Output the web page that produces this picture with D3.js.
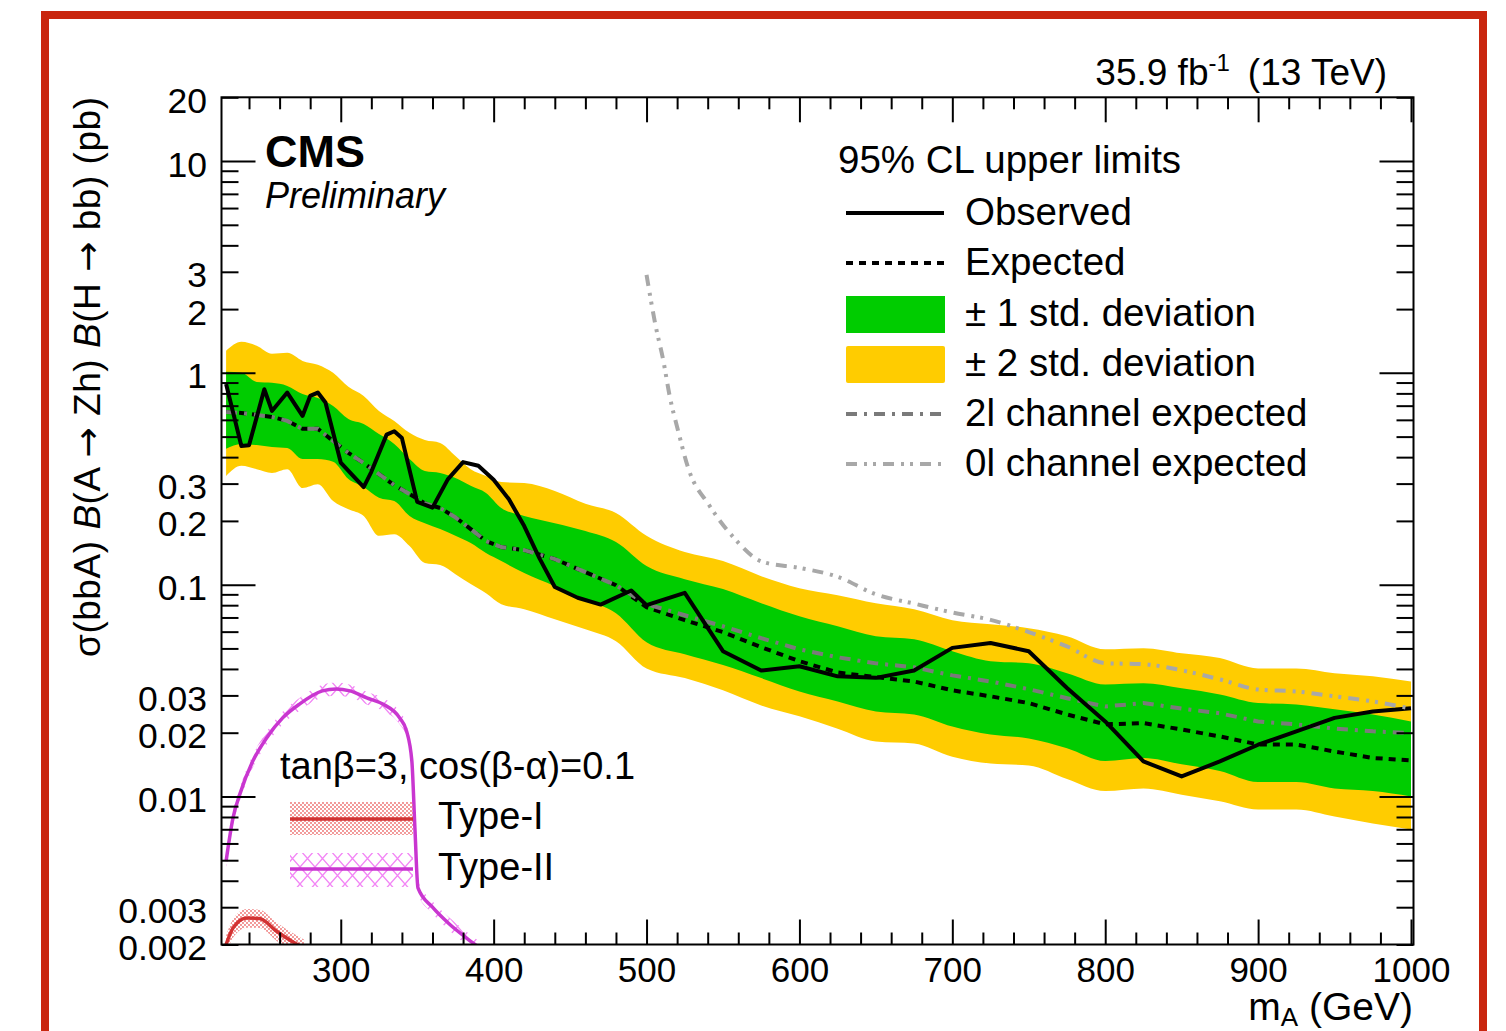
<!DOCTYPE html>
<html><head><meta charset="utf-8">
<script src="https://cdn.jsdelivr.net/npm/d3@7"></script>
<style>
body{margin:0;background:#fff}
svg{display:block}
text{font-family:"Liberation Sans",Arial,Helvetica,sans-serif}
</style>
</head><body>
<svg id="c" width="1506" height="1031"></svg>
<script>
// ---------------- data ----------------
const massGrid = [225,235,245,255,265,275,285,295,305,315,325,335,345,355,365,375,385,395,405,420,440,460,480,500,525,550,575,600,625,650,675,700,725,750,775,800,825,850,875,900,925,950,975,1000];
const expected = [0.654,0.647,0.633,0.619,0.593,0.544,0.544,0.477,0.419,0.375,0.333,0.295,0.268,0.242,0.230,0.208,0.183,0.1606,0.1505,0.1456,0.1320,0.1146,0.0994,0.0783,0.0680,0.0597,0.0507,0.0435,0.0385,0.0366,0.0349,0.0317,0.0297,0.0276,0.0244,0.0219,0.0222,0.0207,0.0192,0.0176,0.0176,0.0163,0.0152,0.0148];
const sigma1Up = [1.011,1.000,0.906,0.897,0.868,0.795,0.761,0.698,0.606,0.574,0.514,0.462,0.392,0.344,0.337,0.319,0.293,0.271,0.230,0.211,0.195,0.179,0.1589,0.1224,0.1062,0.0953,0.0817,0.0709,0.0636,0.0571,0.0552,0.0485,0.0435,0.0425,0.0382,0.0338,0.0342,0.0324,0.0303,0.0276,0.0272,0.0258,0.0244,0.0226];
const sigma1Down = [0.438,0.462,0.456,0.447,0.442,0.392,0.392,0.380,0.315,0.289,0.257,0.248,0.211,0.195,0.183,0.170,0.1571,0.1409,0.1292,0.1134,0.0984,0.0854,0.0733,0.0535,0.0469,0.0417,0.0362,0.0313,0.0281,0.0252,0.0244,0.0214,0.0196,0.0188,0.0169,0.0147,0.0152,0.0142,0.0132,0.0117,0.0117,0.0109,0.0106,0.0100];
const sigma2Up = [1.271,1.402,1.342,1.230,1.243,1.139,1.091,1.000,0.859,0.778,0.661,0.593,0.521,0.482,0.467,0.405,0.351,0.326,0.305,0.302,0.277,0.241,0.218,0.170,0.1425,0.1292,0.1097,0.0963,0.0892,0.0817,0.0766,0.0680,0.0651,0.0623,0.0571,0.0495,0.0501,0.0474,0.0450,0.0402,0.0402,0.0382,0.0369,0.0349];
const sigma2Down = [0.326,0.364,0.351,0.337,0.351,0.286,0.298,0.248,0.227,0.211,0.170,0.173,0.1521,0.1264,0.1237,0.1121,0.1006,0.0912,0.0809,0.0766,0.0687,0.0616,0.0541,0.0402,0.0362,0.0317,0.0269,0.0239,0.0209,0.0182,0.0178,0.0154,0.0143,0.0140,0.0121,0.0106,0.0109,0.0102,0.0095,0.00868,0.00868,0.00804,0.00745,0.00698];
const expected2l = [0.654,0.647,0.633,0.619,0.593,0.544,0.544,0.477,0.419,0.375,0.333,0.295,0.268,0.242,0.230,0.208,0.183,0.1606,0.1505,0.1456,0.1320,0.1146,0.0994,0.0809,0.0717,0.0636,0.0559,0.0495,0.0454,0.0425,0.0407,0.0373,0.0349,0.0321,0.0291,0.0266,0.0276,0.0260,0.0247,0.0226,0.0219,0.0209,0.0203,0.0199];

const masses0l = [500,506,511,515,521,527,541,556,576,600,625,650,675,700,725,750,775,800,825,850,875,900,925,950,975,1000];
const expected0l = [2.9,1.66,1.14,0.786,0.521,0.360,0.237,0.170,0.128,0.120,0.109,0.090,0.0814,0.0739,0.0682,0.0597,0.0511,0.0426,0.0421,0.0394,0.0357,0.0320,0.0313,0.0297,0.0281,0.0260];

const massesObs = [225,235,240,250,255,265,275,280,285,290,300,315,320,330,335,340,350,360,370,380,390,400,410,420,430,440,455,470,490,500,525,550,575,600,625,650,675,700,725,750,775,800,825,850,875,900,925,950,975,1000];
const observed = [0.885,0.452,0.455,0.837,0.661,0.807,0.626,0.778,0.807,0.724,0.377,0.289,0.341,0.511,0.530,0.492,0.246,0.231,0.314,0.379,0.364,0.313,0.253,0.189,0.133,0.0975,0.0867,0.0805,0.0938,0.0800,0.0915,0.0485,0.0393,0.0412,0.0369,0.0363,0.0393,0.0503,0.0530,0.0485,0.0325,0.0226,0.01464,0.01243,0.01464,0.01755,0.0203,0.0235,0.0252,0.0261];

const typeIIMass = [225,229.5,234,242.5,251.5,262,273,288,297,306,317,327.5,338.5,343,346.5,348.5,350.5,360,371,382.5,389,396];
const typeII = [0.00495,0.00791,0.01026,0.0147,0.0189,0.0235,0.0273,0.0315,0.0322,0.0315,0.0292,0.0273,0.0235,0.0204,0.0147,0.0071,0.0037,0.0030,0.0025,0.00214,0.00197,0.0018];
const typeIIUp = [0.0053,0.00846,0.01098,0.0157,0.0202,0.0251,0.0292,0.0337,0.0345,0.0337,0.0312,0.0292,0.0251,0.0218,0.0157,0.0076,0.0040,0.0032,0.00268,0.00229,0.00211,0.00193];
const typeIIDown = [0.0046,0.00736,0.00954,0.0137,0.0176,0.0219,0.0254,0.0293,0.0299,0.0293,0.0272,0.0254,0.0219,0.0190,0.0137,0.0066,0.00344,0.0028,0.00233,0.00199,0.00183,0.00167];

const typeIMass = [225,229.5,238.5,247,258,271,276];
const typeI = [0.0020,0.00239,0.00267,0.00265,0.00231,0.00201,0.00192];
const typeIUp = [0.0022,0.00263,0.00294,0.00292,0.00254,0.00221,0.00211];
const typeIDown = [0.0018,0.00215,0.0024,0.00239,0.00208,0.00181,0.00173];

const xTickLabels = [300,400,500,600,700,800,900,1000];
const yTickLabels = [20,10,3,2,1,0.3,0.2,0.1,0.03,0.02,0.01,0.003,0.002];
const yMajorTicks = [0.01,0.1,1,10];

const legendLabels = ["Observed","Expected","\u00b1 1 std. deviation","\u00b1 2 std. deviation","2l channel expected","0l channel expected"];

// ---------------- drawing ----------------
const W = 1506, H = 1031;
const svg = d3.select('#c');
svg.append('rect').attr('width', W).attr('height', H).attr('fill', '#fff');
svg.append('rect').attr('x', 45).attr('y', 15).attr('width', 1438).attr('height', 1100)
  .attr('fill', 'none').attr('stroke', '#c9260e').attr('stroke-width', 8);

const L = 221.5, R = 1413.5, T = 97.3, B = 944.5;
const x = d3.scaleLinear().domain([222, 1000]).range([221.5, 1411]);
const y = d3.scaleLog().domain([0.002, 20]).range([B, T]);

const defs = svg.append('defs');
defs.append('clipPath').attr('id', 'clip').append('rect')
  .attr('x', L).attr('y', T).attr('width', R - L).attr('height', B - T);
const p1 = defs.append('pattern').attr('id', 'hatchI').attr('patternUnits', 'userSpaceOnUse').attr('width', 4).attr('height', 4);
p1.append('circle').attr('cx', 1).attr('cy', 1).attr('r', 0.9).attr('fill', '#ec6a6a');
p1.append('circle').attr('cx', 3).attr('cy', 3).attr('r', 0.9).attr('fill', '#ec6a6a');
const p2 = defs.append('pattern').attr('id', 'hatchII').attr('patternUnits', 'userSpaceOnUse').attr('width', 15).attr('height', 17);
p2.append('path').attr('d', 'M0,0 L15,17 M15,0 L0,17').attr('stroke', '#f286f5').attr('stroke-width', 1.4).attr('fill', 'none');

const plot = svg.append('g').attr('clip-path', 'url(#clip)');

function bandPath(ms, lo, hi, curve) {
  return d3.area().x((d, i) => x(ms[i])).y0((d, i) => y(lo[i])).y1((d, i) => y(hi[i])).curve(curve)(ms);
}
function linePath(ms, vs, curve) {
  return d3.line().x((d, i) => x(ms[i])).y((d, i) => y(vs[i])).curve(curve)(ms);
}

plot.append('path').attr('d', bandPath(massGrid, sigma2Down, sigma2Up, d3.curveMonotoneX)).attr('fill', '#ffcc00');
plot.append('path').attr('d', bandPath(massGrid, sigma1Down, sigma1Up, d3.curveMonotoneX)).attr('fill', '#00cc00');

plot.append('path').attr('d', linePath(massGrid, expected, d3.curveLinear))
  .attr('fill', 'none').attr('stroke', '#000').attr('stroke-width', 4).attr('stroke-dasharray', '7,6');
plot.append('path').attr('d', linePath(massGrid, expected2l, d3.curveLinear))
  .attr('fill', 'none').attr('stroke', '#7a7a7a').attr('stroke-width', 4).attr('stroke-dasharray', '11,7,3,7');
plot.append('path').attr('d', linePath(massesObs, observed, d3.curveLinear))
  .attr('fill', 'none').attr('stroke', '#000').attr('stroke-width', 4).attr('stroke-linejoin', 'round');
plot.append('path').attr('d', linePath(masses0l, expected0l, d3.curveMonotoneX))
  .attr('fill', 'none').attr('stroke', '#a8a8a8').attr('stroke-width', 4).attr('stroke-dasharray', '11,7,3,6,3,7');

plot.append('path').attr('d', bandPath(typeIIMass, typeIIDown, typeIIUp, d3.curveMonotoneX)).attr('fill', 'url(#hatchII)');
plot.append('path').attr('d', linePath(typeIIMass, typeII, d3.curveMonotoneX))
  .attr('fill', 'none').attr('stroke', '#c936d0').attr('stroke-width', 3.5);
plot.append('path').attr('d', bandPath(typeIMass, typeIDown, typeIUp, d3.curveMonotoneX)).attr('fill', 'url(#hatchI)');
plot.append('path').attr('d', linePath(typeIMass, typeI, d3.curveMonotoneX))
  .attr('fill', 'none').attr('stroke', '#d23232').attr('stroke-width', 3.5);

// ---------------- axes ----------------
const FONT = '"Liberation Sans",Arial,Helvetica,sans-serif';
const xMinor = d3.range(240, 1000, 20).filter(v => v % 100 !== 0);
const yMinor = [];
[0.001, 0.01, 0.1, 1, 10].forEach(dec => { for (let k = 2; k <= 9; k++) { const v = k * dec; if (v >= 0.002 && v <= 20) yMinor.push(+v.toPrecision(3)); } });

function styleAxis(g) {
  g.select('.domain').remove();
  g.selectAll('line').attr('stroke', '#000').attr('stroke-width', 2);
}
// bottom
svg.append('g').attr('transform', `translate(0,${B})`).call(d3.axisBottom(x).tickValues(xMinor).tickSize(-12).tickFormat('')).call(styleAxis);
svg.append('g').attr('transform', `translate(0,${B})`).call(d3.axisBottom(x).tickValues(xTickLabels).tickSize(-25).tickFormat(d => String(d))).call(styleAxis)
  .call(g => g.selectAll('text').attr('y', 37).attr('dy', 0).attr('fill', '#000').attr('font-size', 35).attr('font-family', FONT));
// top
svg.append('g').attr('transform', `translate(0,${T})`).call(d3.axisTop(x).tickValues(xMinor).tickSize(-12).tickFormat('')).call(styleAxis);
svg.append('g').attr('transform', `translate(0,${T})`).call(d3.axisTop(x).tickValues(xTickLabels).tickSize(-25).tickFormat('')).call(styleAxis);
// left
svg.append('g').attr('transform', `translate(${L},0)`).call(d3.axisLeft(y).tickValues(yMinor).tickSize(-17).tickFormat('')).call(styleAxis);
svg.append('g').attr('transform', `translate(${L},0)`).call(d3.axisLeft(y).tickValues(yMajorTicks).tickSize(-34).tickFormat('')).call(styleAxis);
svg.append('g').attr('transform', `translate(${L},0)`).call(d3.axisLeft(y).tickValues(yTickLabels).tickSize(0).tickPadding(14.5).tickFormat(d => String(d))).call(styleAxis)
  .call(g => g.selectAll('text').attr('dy', 15).attr('fill', '#000').attr('font-size', 35.5).attr('font-family', FONT));
// right
svg.append('g').attr('transform', `translate(${R},0)`).call(d3.axisRight(y).tickValues(yMinor).tickSize(-17).tickFormat('')).call(styleAxis);
svg.append('g').attr('transform', `translate(${R},0)`).call(d3.axisRight(y).tickValues(yMajorTicks).tickSize(-34).tickFormat('')).call(styleAxis);

// frame
svg.append('rect').attr('x', L).attr('y', T).attr('width', R - L).attr('height', B - T)
  .attr('fill', 'none').attr('stroke', '#000').attr('stroke-width', 2);

// ---------------- texts ----------------
const ARROWFONT = '"DejaVu Sans",sans-serif';
const yt = svg.append('text').attr('transform', 'translate(100,97) rotate(-90)')
  .attr('text-anchor', 'end').attr('font-size', 37).attr('fill', '#000')
  .attr('textLength', 560).attr('lengthAdjust', 'spacing');
yt.append('tspan').text('\u03c3(bbA) ');
yt.append('tspan').attr('font-style', 'italic').text('B');
yt.append('tspan').text('(A ');
yt.append('tspan').attr('font-family', ARROWFONT).attr('font-size', 36).text('\u2192');
yt.append('tspan').text(' Zh) ');
yt.append('tspan').attr('font-style', 'italic').text('B');
yt.append('tspan').text('(H ');
yt.append('tspan').attr('font-family', ARROWFONT).attr('font-size', 36).text('\u2192');
yt.append('tspan').text(' bb) (pb)');

const xt = svg.append('text').attr('x', 1413).attr('y', 1020).attr('text-anchor', 'end').attr('font-size', 39).attr('fill', '#000');
xt.append('tspan').text('m');
xt.append('tspan').attr('font-size', 26).attr('dy', 6).text('A');
xt.append('tspan').attr('dy', -6).text(' (GeV)');

const lumi = svg.append('text').attr('x', 1387).attr('y', 85).attr('text-anchor', 'end').attr('font-size', 37).attr('fill', '#000');
lumi.append('tspan').text('35.9 fb');
lumi.append('tspan').attr('font-size', 24).attr('dy', -14).text('-1');
lumi.append('tspan').attr('dy', 14).attr('dx', 18).text('(13 TeV)');

svg.append('text').attr('x', 265).attr('y', 167).attr('font-size', 45).attr('font-weight', 'bold').attr('fill', '#000').text('CMS');
svg.append('text').attr('x', 265).attr('y', 208).attr('font-size', 36).attr('font-style', 'italic').attr('fill', '#000').text('Preliminary');

// legend
svg.append('text').attr('x', 838).attr('y', 173).attr('font-size', 38.5).attr('fill', '#000').text('95% CL upper limits');
const lg = svg.append('g');
const rowY = [213, 263, 314, 364, 414, 464];
legendLabels.forEach((t, i) => {
  lg.append('text').attr('x', 965).attr('y', rowY[i] + 12).attr('font-size', 38.5).attr('fill', '#000').text(t);
});
lg.append('line').attr('x1', 846).attr('x2', 944).attr('y1', rowY[0]).attr('y2', rowY[0]).attr('stroke', '#000').attr('stroke-width', 4);
lg.append('line').attr('x1', 846).attr('x2', 944).attr('y1', rowY[1]).attr('y2', rowY[1]).attr('stroke', '#000').attr('stroke-width', 4).attr('stroke-dasharray', '7,6');
lg.append('rect').attr('x', 846).attr('y', 296).attr('width', 99).attr('height', 37).attr('fill', '#00cc00');
lg.append('rect').attr('x', 846).attr('y', 346).attr('width', 99).attr('height', 37).attr('rx', 2).attr('fill', '#ffcc00');
lg.append('line').attr('x1', 846).attr('x2', 944).attr('y1', rowY[4]).attr('y2', rowY[4]).attr('stroke', '#7a7a7a').attr('stroke-width', 4).attr('stroke-dasharray', '11,7,3,7');
lg.append('line').attr('x1', 846).attr('x2', 944).attr('y1', rowY[5]).attr('y2', rowY[5]).attr('stroke', '#a8a8a8').attr('stroke-width', 4).attr('stroke-dasharray', '11,7,3,6,3,7');

// lower legend
svg.append('text').attr('x', 280).attr('y', 779).attr('font-size', 38).attr('fill', '#000').text('tan\u03b2=3, cos(\u03b2-\u03b1)=0.1');
svg.append('rect').attr('x', 290).attr('y', 802).attr('width', 123).attr('height', 33).attr('fill', 'url(#hatchI)');
svg.append('line').attr('x1', 290).attr('x2', 413).attr('y1', 819).attr('y2', 819).attr('stroke', '#d23232').attr('stroke-width', 3.5);
svg.append('text').attr('x', 438).attr('y', 829).attr('font-size', 38).attr('fill', '#000').text('Type-I');
svg.append('rect').attr('x', 290).attr('y', 853).attr('width', 123).attr('height', 34).attr('fill', 'url(#hatchII)');
svg.append('line').attr('x1', 290).attr('x2', 413).attr('y1', 869).attr('y2', 869).attr('stroke', '#c936d0').attr('stroke-width', 3.5);
svg.append('text').attr('x', 438).attr('y', 880).attr('font-size', 38).attr('fill', '#000').text('Type-II');
</script>
</body></html>
